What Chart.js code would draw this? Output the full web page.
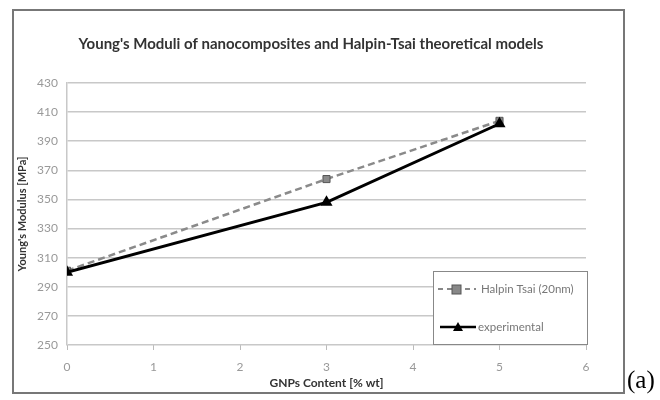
<!DOCTYPE html>
<html>
<head>
<meta charset="utf-8">
<script src="https://cdn.jsdelivr.net/npm/chart.js@4/dist/chart.umd.min.js"></script>
<style>
  body { margin: 0; background: #fff; }
  #wrap { position: relative; width: 660px; height: 400px; }
  #tag { position: absolute; left: 627px; top: 366px; font: 25px "Liberation Serif", "DejaVu Serif", serif; color: #000; }
</style>
</head>
<body>
<div id="wrap">
  <canvas id="myChart" width="660" height="400"></canvas>
  <div id="tag">(a)</div>
</div>
<script>
// GNPs content [% wt]
let content = [0, 3, 5];
// Young's modulus [MPa]
let halpinTsai = [301, 364, 404];
let experimental = [300, 348, 402];
let xTicks = [0, 1, 2, 3, 4, 5, 6];
let yTicks = [250, 270, 290, 310, 330, 350, 370, 390, 410, 430];

function toPoints(values) {
   return content.map((c, i) => ({ x: c, y: values[i] }));
}

// frame round the whole chart + legend box inside the plot
let framePlugin = {
   id: 'frame',
   afterDraw(chart) {
      let ctx = chart.ctx;
      ctx.save();
      ctx.strokeStyle = '#777';
      ctx.lineWidth = 2;
      ctx.strokeRect(13, 10, 611, 383);

      // legend
      let lx = 433, ly = 271, lw = 154, lh = 73;
      ctx.fillStyle = '#fff';
      ctx.fillRect(lx, ly, lw, lh);
      ctx.strokeStyle = '#888';
      ctx.lineWidth = 1;
      ctx.strokeRect(lx + 0.5, ly + 0.5, lw, lh);

      ctx.font = '11.5px Lato';
      ctx.textBaseline = 'middle';

      // Halpin Tsai item
      let y1 = 289;
      ctx.strokeStyle = '#888';
      ctx.lineWidth = 2;
      ctx.setLineDash([5, 4]);
      ctx.beginPath();
      ctx.moveTo(438, y1);
      ctx.lineTo(476, y1);
      ctx.stroke();
      ctx.setLineDash([]);
      ctx.fillStyle = '#888';
      ctx.fillRect(452, y1 - 4, 9, 9);
      ctx.strokeStyle = '#555';
      ctx.lineWidth = 1;
      ctx.strokeRect(452, y1 - 4, 9, 9);
      ctx.fillStyle = '#777';
      ctx.fillText(chart.data.datasets[0].label, 481, y1);

      // experimental item
      let y2 = 327;
      ctx.strokeStyle = '#000';
      ctx.lineWidth = 2.5;
      ctx.beginPath();
      ctx.moveTo(440, y2);
      ctx.lineTo(476, y2);
      ctx.stroke();
      ctx.fillStyle = '#000';
      ctx.beginPath();
      ctx.moveTo(458, y2 - 5);
      ctx.lineTo(463, y2 + 4);
      ctx.lineTo(453, y2 + 4);
      ctx.closePath();
      ctx.fill();
      ctx.fillStyle = '#777';
      ctx.fillText(chart.data.datasets[1].label, 478, y2);
      ctx.restore();
   }
};

let ctx = document.getElementById('myChart').getContext('2d');
let chart = new Chart(ctx, {
   type: 'line',
   data: {
      datasets: [{
         label: 'Halpin Tsai (20nm)',
         data: toPoints(halpinTsai),
         borderColor: '#8a8a8a',
         borderWidth: 2.5,
         borderDash: [7, 4],
         pointStyle: 'rect',
         pointRadius: 5,
         pointBackgroundColor: '#8a8a8a',
         pointBorderColor: '#555',
         pointBorderWidth: 1,
         order: 2
      }, {
         label: 'experimental',
         data: toPoints(experimental),
         borderColor: '#000',
         borderWidth: 3,
         pointStyle: 'triangle',
         pointRadius: 4,
         pointBackgroundColor: '#000',
         pointBorderColor: '#000',
         order: 1
      }]
   },
   options: {
      responsive: false,
      animation: false,
      // left padding pushes the title a bit right, like the original
      layout: { padding: { left: 36, right: 74, top: 0, bottom: 0 } },
      plugins: {
         legend: { display: false },
         tooltip: { enabled: false },
         title: {
            display: true,
            text: "Young's Moduli of nanocomposites and Halpin-Tsai theoretical models",
            color: '#333',
            font: { family: 'Lato', size: 15, weight: 'bold' },
            padding: { top: 35, bottom: 30 }
         }
      },
      scales: {
         x: {
            type: 'linear',
            min: 0,
            max: 6,
            afterBuildTicks: s => { s.ticks = xTicks.map(v => ({ value: v })); },
            afterFit: s => { s.height = 55; },
            grid: { drawOnChartArea: false, drawTicks: true, tickLength: 5, color: '#bbb' },
            border: { display: false },
            ticks: { color: '#999', font: { family: 'Lato', size: 12 }, padding: 10 },
            title: {
               display: true,
               text: 'GNPs Content [% wt]',
               color: '#333',
               font: { family: 'Lato', size: 12, weight: 'bold' },
               padding: { top: 2, bottom: 10 }
            }
         },
         y: {
            min: 250,
            max: 430,
            afterBuildTicks: s => { s.ticks = yTicks.map(v => ({ value: v })); },
            afterFit: s => { s.width = 31; },
            grid: { color: '#c8c8c8', lineWidth: 1.5, drawTicks: false },
            border: { display: true, color: '#c8c8c8', width: 1.5 },
            ticks: { color: '#999', font: { family: 'Lato', size: 12 }, padding: 9 },
            title: {
               display: true,
               text: "Young's Modulus [MPa]",
               color: '#333',
               font: { family: 'Lato', size: 11, weight: 'bold' },
               padding: { top: -20, bottom: 0 }
            }
         }
      }
   },
   plugins: [framePlugin]
});
</script>
</body>
</html>
